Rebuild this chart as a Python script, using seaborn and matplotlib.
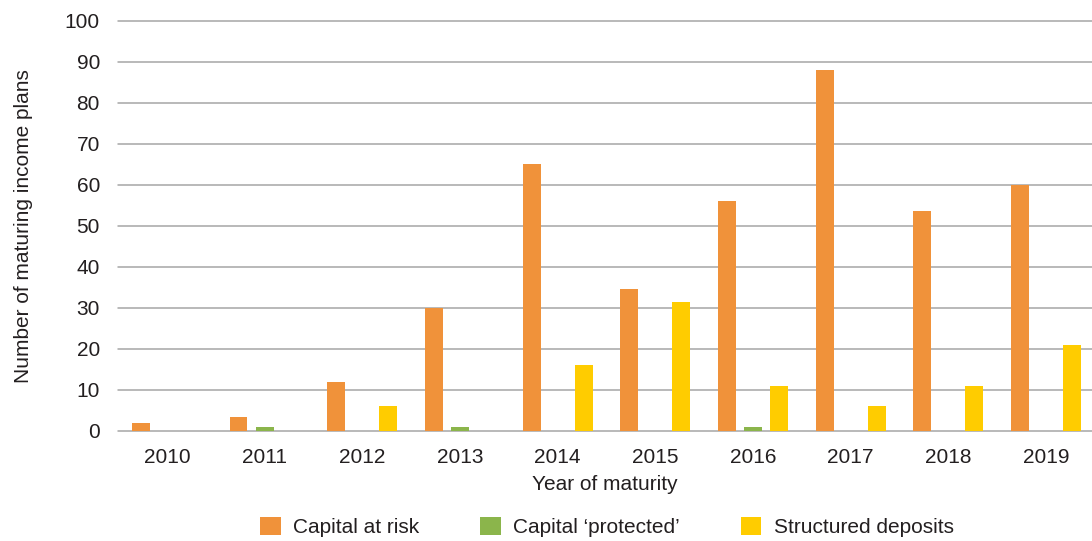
import pandas as pd
import numpy as np
import matplotlib.pyplot as plt
import seaborn as sns

# Chart data
years = ['2010', '2011', '2012', '2013', '2014', '2015', '2016', '2017', '2018', '2019']
capital_at_risk = [2, 3.5, 12, 30, 65, 34.5, 56, 88, 53.5, 60]
capital_protected = [0, 1, 0, 1, 0, 0, 1, 0, 0, 0]
structured_deposits = [0, 0, 6, 0, 16, 31.5, 11, 6, 11, 21]
series_names = ['Capital at risk', 'Capital \u2018protected\u2019', 'Structured deposits']
colours = ['#F0923A', '#8BB54B', '#FFCC00']

df = pd.DataFrame({
    'Year': years,
    series_names[0]: capital_at_risk,
    series_names[1]: capital_protected,
    series_names[2]: structured_deposits,
}).melt(id_vars='Year', var_name='Type', value_name='Plans')

sns.set_style('white')
plt.rcParams['font.family'] = ['Liberation Sans', 'DejaVu Sans']
text_col = '#231F20'

fig = plt.figure(figsize=(10.92, 5.41), dpi=100)
ax = fig.add_axes([118 / 1092, 110 / 541, (1092 - 118) / 1092, (431 - 20.7) / 541])

sns.barplot(data=df, x='Year', y='Plans', hue='Type', hue_order=series_names,
            palette=colours, saturation=1, width=0.8, gap=0.31, linewidth=0, ax=ax)

ax.set_ylim(0, 100)
ax.set_yticks(range(0, 101, 10))
ax.set_xlim(-0.5, 9.47)
ax.yaxis.grid(True, color='#A6A6A6', linewidth=1.1, clip_on=False)
ax.set_axisbelow(True)
for s in ax.spines.values():
    s.set_visible(False)
ax.tick_params(length=0, labelsize=15, colors=text_col)
ax.tick_params(axis='y', pad=13)
ax.tick_params(axis='x', pad=12)

ax.set_xlabel('Year of maturity', fontsize=15, color=text_col, labelpad=6)
ax.set_ylabel('Number of maturing income plans', fontsize=15, color=text_col, labelpad=23)

handles, labels = ax.get_legend_handles_labels()
ax.get_legend().remove()
fig.legend(handles, labels, loc='center', bbox_to_anchor=(607 / 1092, 14 / 541),
           ncol=3, frameon=False, fontsize=15, handlelength=1.0, handleheight=1.0,
           handletextpad=0.6, columnspacing=2.9, labelcolor=text_col)

fig.savefig('out.png', dpi=100)
